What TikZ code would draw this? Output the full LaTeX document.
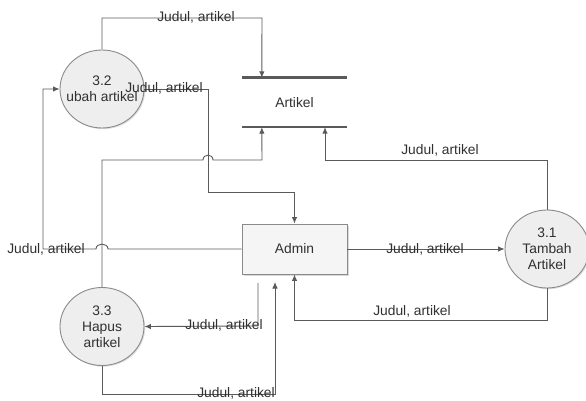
\documentclass[tikz,border=0pt]{standalone}
\usepackage{fontspec}
\setmainfont{Liberation Sans}
\usetikzlibrary{arrows.meta,shapes.geometric,shadows}
\definecolor{lnc}{HTML}{5A5A5A}
\definecolor{txc}{HTML}{303030}
\definecolor{procfill}{HTML}{EEEEEE}
\definecolor{procdraw}{HTML}{8A8A8A}
\tikzset{
  flow/.style={draw=lnc, line width=0.9pt, -{Latex[length=6.5pt,width=5.5pt]}},
  proc/.style={ellipse, minimum width=84pt, minimum height=78pt, inner sep=0pt,
    fill=procfill, draw=procdraw, line width=0.9pt,
    drop shadow={shadow xshift=1.2pt, shadow yshift=-1.2pt, opacity=0.25}},
  proctext/.style={align=center, text=txc, inner sep=0pt,
    font=\fontsize{13.8}{16}\selectfont},
  entity/.style={rectangle, minimum width=105pt, minimum height=50pt, inner sep=0pt,
    fill=procfill!60, draw=procdraw, line width=0.9pt, text=txc,
    font=\fontsize{13.8}{16}\selectfont,
    drop shadow={shadow xshift=1.5pt, shadow yshift=-1.5pt, opacity=0.3}},
  storebox/.style={rectangle, minimum width=105pt, minimum height=49pt, inner sep=0pt,
    text=txc, font=\fontsize{13.8}{16}\selectfont},
  storeline/.style={draw=lnc, line width=2.6pt},
  lbl/.style={text=txc, font=\fontsize{13.8}{16}\selectfont, inner sep=0pt}
}
\begin{document}
\begin{tikzpicture}[x=1pt,y=-1pt]
\useasboundingbox (0,0) rectangle (586,401);
% nodes
\node[storebox] (store) at (294.5,102.5) {Artikel};
\node[entity] (admin) at (294.5,249) {Admin};
\node[proc, label={[proctext]center:3.2\\ubah artikel}] (c32) at (102,89) {};
\node[proc, label={[proctext]center:3.1\\Tambah\\Artikel}] (c31) at (547,249) {};
\node[proc, label={[proctext]center:3.3\\Hapus\\artikel}] (c33) at (102,326.5) {};
\draw[storeline] (store.north west) -- (store.north east);
\draw[storeline] (store.south west) -- (store.south east);
\coordinate (hs) at (258,283);
\coordinate (he) at (275,282);
% connectors
\draw[flow] (c32.north) -- (102,18) -- (262,18) -- ([xshift=20pt]store.north west);
\draw[flow] (c33.north) -- (102,160) -- (203,160) .. controls (203,153.5) and (213,153.5) .. (213,160) -- (262,160) -- ([xshift=20pt]store.south west);
\draw[flow] (c32.east) -- (208,89) -- (208,192) -- (294.5,192) -- (admin.north);
\draw[flow] (admin.west) -- (108,249) .. controls (108,242.5) and (96,242.5) .. (96,249) -- (43,249) -- (43,89) -- (c32.west);
\draw[flow] (admin.east) -- (c31.west);
\draw[flow] (c31.north) -- (547,160) -- (325,160) -- ([xshift=30.5pt]store.south);
\draw[flow] (c31.south) -- (547,320) -- (294.5,320) -- (admin.south);
\draw[flow] (hs) -- (258,326) -- (c33.east);
\draw[flow] (c33.south) -- (102,394) -- (275,394) -- (he);
% labels
\node[lbl] (l1) at (196,17) {Judul, artikel};
\node[lbl] (l2) at (164,88) {Judul, artikel};
\node[lbl] (l3) at (46,249) {Judul, artikel};
\node[lbl] (l4) at (425,249) {Judul, artikel};
\node[lbl] (l5) at (440,150) {Judul, artikel};
\node[lbl] (l6) at (412,311) {Judul, artikel};
\node[lbl] (l7) at (224,325) {Judul, artikel};
\node[lbl] (l8) at (236,393) {Judul, artikel};
\end{tikzpicture}
\end{document}
